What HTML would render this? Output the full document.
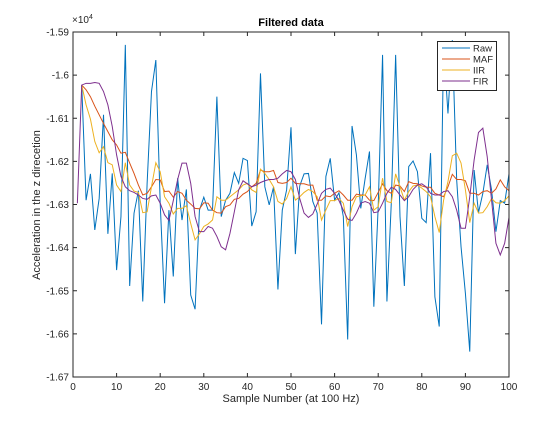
<!DOCTYPE html>
<html><head><meta charset="utf-8"><style>
body{margin:0;background:#fff;}
svg text{font-family:"Liberation Sans",sans-serif;}
</style></head><body>
<svg id="chart" width="560" height="420" xmlns="http://www.w3.org/2000/svg">
<rect width="560" height="420" fill="#fff"/>
<rect x="73" y="32" width="436" height="345" fill="#fff" stroke="none"/>
<g id="lines"></g>
<g id="axes"></g>
<text x="291" y="26" font-size="11" font-weight="bold" text-anchor="middle" fill="#000">Filtered data</text>
<text x="291" y="402" font-size="11" text-anchor="middle" fill="#262626">Sample Number (at 100 Hz)</text>
<text transform="translate(40,205) rotate(-90)" font-size="11" text-anchor="middle" fill="#262626">Acceleration in the z direcetion</text>
<text x="72" y="23" font-size="10" fill="#262626">×10<tspan font-size="7" dy="-4">4</tspan></text>
<g id="legend"></g>
</svg>
<script>
const xTicks=[0,10,20,30,40,50,60,70,80,90,100];
const yTicks=[-15900,-16000,-16100,-16200,-16300,-16400,-16500,-16600,-16700];
const yTickLabels=["-1.59","-1.6","-1.61","-1.62","-1.63","-1.64","-1.65","-1.66","-1.67"];
const seriesNames=["Raw","MAF","IIR","FIR"];
const rawStart=2;
const raw=[-16023,-16290,-16229,-16359,-16286,-16092,-16368,-16228,-16452,-16328,-15930,-16489,-16320,-16268,-16525,-16251,-16038,-15965,-16297,-16529,-16313,-16467,-16239,-16336,-16265,-16510,-16543,-16313,-16283,-16313,-16313,-16050,-16328,
-16290,-16274,-16226,-16251,-16193,-16198,-16350,-16317,-15996,-16259,-16301,-16259,-16497,-16313,-16266,-16121,-16415,-16257,-16229,-16228,-16293,-16320,-16578,-16235,-16193,-16290,-16273,-16328,-16613,-16118,-16185,-16309,-16240,
-16177,-16537,-16305,-15953,-16525,-16297,-15953,-16328,-16489,-16212,-16199,-16224,-16332,-16342,-16181,-16514,-16583,-15930,-16089,-15919,-16243,-16398,-16506,-16641,-16220,-16319,-16274,-16208,-16266,-16363,-16291,-16297,-16229];
const mafStart=2;
const maf=[-16023,-16034,-16050,-16072,-16092,-16112,-16131,-16150,-16162,-16181,-16179,-16204,-16228,-16255,-16278,-16274,-16259,-16242,-16243,-16270,-16269,-16283,-16270,-16274,-16290,-16299,-16309,-16310,-16296,-16297,-16313,-16319,
-16320,-16305,-16301,-16288,-16286,-16276,-16270,-16259,-16251,-16220,-16224,-16224,-16221,-16249,-16251,-16249,-16239,-16251,-16252,-16252,-16255,-16255,-16290,-16290,-16280,-16282,-16274,-16268,-16278,-16290,-16290,-16276,-16278,-16278,
-16290,-16291,-16272,-16252,-16268,-16274,-16255,-16257,-16270,-16247,-16251,-16252,-16257,-16260,-16260,-16274,-16278,-16282,-16259,-16230,-16242,-16242,-16245,-16274,-16274,-16278,-16270,-16268,-16274,-16264,-16243,-16259,-16268];
const iirStart=2;
const iir=[-16023,-16069,-16102,-16154,-16180,-16166,-16203,-16208,-16255,-16270,-16203,-16255,-16269,-16272,-16319,-16317,-16259,-16203,-16224,-16282,-16297,-16322,-16309,-16309,-16303,-16344,-16382,-16368,-16351,-16345,-16336,-16282,
-16290,-16290,-16282,-16274,-16266,-16255,-16251,-16266,-16272,-16218,-16228,-16242,-16259,-16293,-16299,-16286,-16259,-16290,-16282,-16272,-16265,-16270,-16282,-16336,-16313,-16291,-16291,-16286,-16297,-16351,-16305,-16282,-16280,-16278,
-16259,-16313,-16305,-16239,-16293,-16296,-16229,-16259,-16290,-16270,-16257,-16255,-16262,-16270,-16282,-16328,-16365,-16290,-16247,-16187,-16181,-16204,-16266,-16342,-16297,-16320,-16319,-16305,-16286,-16296,-16297,-16291,-16280];
const firStart=1;
const fir=[-16297,-16023,-16019,-16019,-16017,-16019,-16038,-16069,-16119,-16185,-16235,-16259,-16268,-16272,-16278,-16286,-16288,-16280,-16278,-16297,-16324,-16337,-16291,-16242,-16204,-16204,-16251,-16328,-16363,-16363,-16351,-16355,-16374,
-16398,-16405,-16367,-16317,-16266,-16245,-16252,-16259,-16255,-16249,-16245,-16242,-16242,-16239,-16229,-16221,-16224,-16242,-16286,-16320,-16330,-16322,-16299,-16274,-16265,-16262,-16274,-16291,-16313,-16334,-16337,-16320,-16297,-16293,
-16297,-16319,-16317,-16297,-16274,-16260,-16265,-16278,-16291,-16282,-16265,-16255,-16252,-16259,-16274,-16278,-16278,-16270,-16268,-16282,-16313,-16355,-16355,-16282,-16197,-16133,-16123,-16189,-16290,-16390,-16417,-16390,-16330];

const L=73,R=509,T=32,B=377;
const xs=v=>L+(v-0)/(100-0)*(R-L);
const ys=v=>T+(-15900-v)/800*(B-T);
const NS="http://www.w3.org/2000/svg";
const colors=["#0072BD","#D95319","#EDB120","#7E2F8E"];
const lines=document.getElementById('lines');
[[raw,rawStart],[maf,mafStart],[iir,iirStart],[fir,firStart]].forEach((s,i)=>{
  const pts=s[0].map((v,k)=>xs(s[1]+k).toFixed(2)+","+ys(v).toFixed(2)).join(" ");
  const pl=document.createElementNS(NS,'polyline');
  pl.setAttribute('points',pts);
  pl.setAttribute('fill','none');
  pl.setAttribute('stroke',colors[i]);
  pl.setAttribute('stroke-width','1');
  
  
  lines.appendChild(pl);
});
const axes=document.getElementById('axes');
let h='<rect x="'+L+'" y="'+T+'" width="'+(R-L)+'" height="'+(B-T)+'" fill="none" stroke="#262626" stroke-width="1"/>';
xTicks.forEach(t=>{const x=xs(t);
  h+='<line x1="'+x+'" y1="'+B+'" x2="'+x+'" y2="'+(B-4)+'" stroke="#262626"/>';
  h+='<line x1="'+x+'" y1="'+T+'" x2="'+x+'" y2="'+(T+4)+'" stroke="#262626"/>';
  h+='<text x="'+x+'" y="'+(B+13)+'" font-size="10" text-anchor="middle" fill="#262626">'+t+'</text>';});
yTicks.forEach((t,i)=>{const y=ys(t);
  h+='<line x1="'+L+'" y1="'+y+'" x2="'+(L+4)+'" y2="'+y+'" stroke="#262626"/>';
  h+='<line x1="'+R+'" y1="'+y+'" x2="'+(R-4)+'" y2="'+y+'" stroke="#262626"/>';
  h+='<text x="'+(L-4)+'" y="'+(y+3.5)+'" font-size="10" text-anchor="end" fill="#262626">'+yTickLabels[i]+'</text>';});
axes.innerHTML=h;
const lg=document.getElementById('legend');
let g='<rect x="437.5" y="41.5" width="59" height="49" fill="#fff" stroke="#262626"/>';
seriesNames.forEach((n,i)=>{const y=48+i*11;
  g+='<line x1="442" y1="'+y+'" x2="470" y2="'+y+'" stroke="'+colors[i]+'"/>';
  g+='<text x="473" y="'+(y+3.5)+'" font-size="9.5" fill="#262626">'+n+'</text>';});
lg.innerHTML=g;
</script>
</body></html>
